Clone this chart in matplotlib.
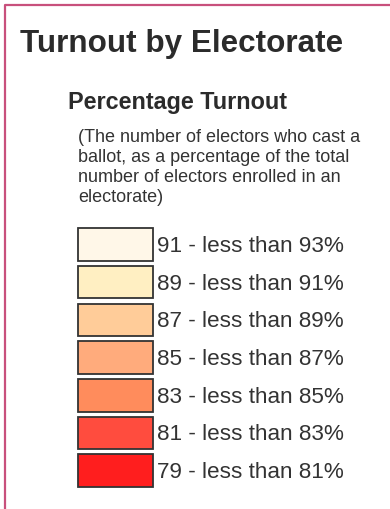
import matplotlib.pyplot as plt
import numpy as np

plt.rcParams['font.family'] = ['Liberation Sans', 'DejaVu Sans']

title = 'Turnout by Electorate'
subtitle = 'Percentage Turnout'
note_lines = ['(The number of electors who cast a',
              'ballot, as a percentage of the total',
              'number of electors enrolled in an',
              'electorate)']

lower = [91, 89, 87, 85, 83, 81, 79]
upper = [93, 91, 89, 87, 85, 83, 81]
colors = ['#FFF7E8', '#FFEFC2', '#FFCC99', '#FFAB7C', '#FF8C5C', '#FF4C3E', '#FF1E1E']

labels = [f'{a} - less than {b}%' for a, b in zip(lower, upper)]

fig = plt.figure(figsize=(3.9, 5.1), dpi=100)
ax = fig.add_axes([0, 0, 1, 1])
ax.set_xlim(0, 390)
ax.set_ylim(510, 0)
ax.axis('off')

# frame (left and top edges only visible)
ax.plot([5, 5, 392], [512, 6, 6], color='#C8507C', lw=1.6, solid_capstyle='butt')

ax.text(20, 44, title, fontsize=22.6, fontweight='bold', color='#2b2b2b', va='center')
ax.text(68, 103, subtitle, fontsize=16.8, fontweight='bold', color='#2b2b2b', va='center')
for i, line in enumerate(note_lines):
    ax.text(78, 141.7 + 20 * i, line, fontsize=13, color='#333333', va='baseline')

# legend swatches
y0, pitch = 245.5, 37.7
ys = y0 + pitch * np.arange(len(labels))
ax.barh(ys, 75, left=78, height=32.5, color=colors, edgecolor='#333333', linewidth=1.3)
for y, lab in zip(ys, labels):
    ax.text(157, y + 1, lab, fontsize=16.2, color='#333333', va='center')

fig.savefig('out.png', dpi=100)
